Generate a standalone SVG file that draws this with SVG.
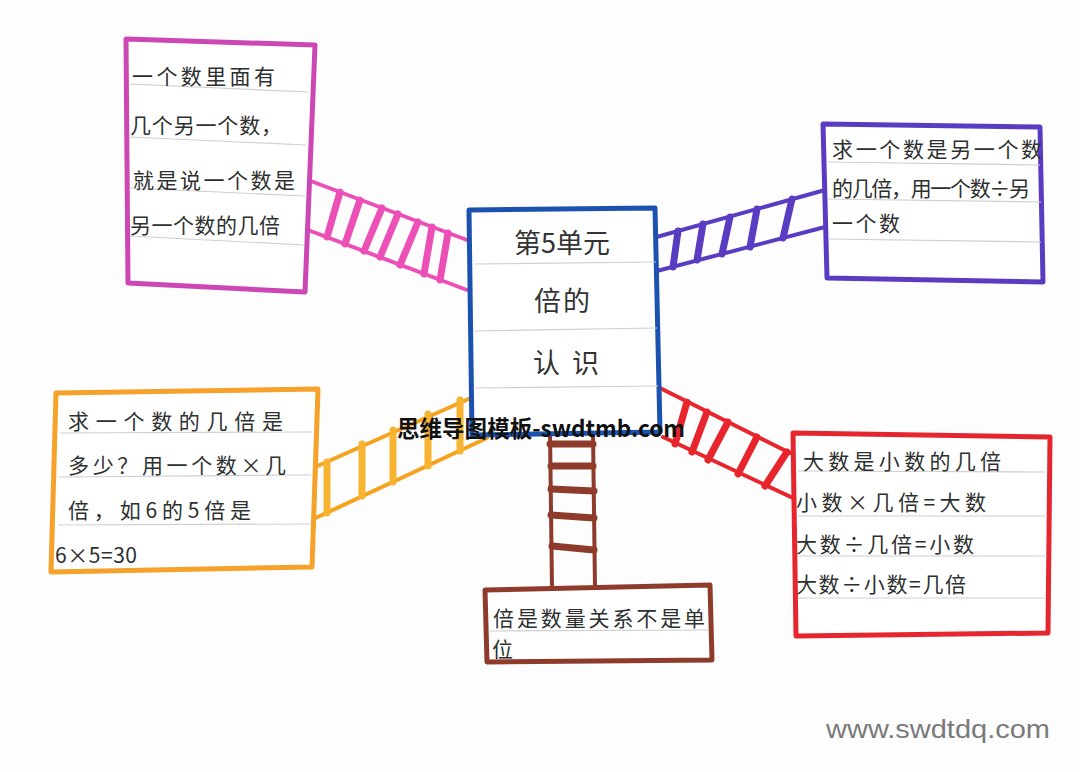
<svg xmlns="http://www.w3.org/2000/svg" width="1080" height="772" viewBox="0 0 1080 772">
<style>
.bg{fill:#fdfdfd}
.box{fill:#fff;stroke-width:5;stroke-linejoin:round}
.rule{stroke:#cfcfcf;stroke-width:1.2;fill:none}
.hw{font-family:"Noto Sans CJK SC","Noto Sans",sans-serif;font-size:21px;fill:#2e3030}
.ctr{font-family:"Noto Sans CJK SC","Noto Sans",sans-serif;font-size:27px;fill:#333;text-anchor:middle}
.rail{stroke-width:4;stroke-linecap:round;fill:none}
.rung{stroke-width:7;stroke-linecap:round;fill:none}
.wm{font-family:"Noto Sans CJK SC","Noto Sans",sans-serif;font-weight:bold;font-size:23px;fill:#111}
.site{font-family:"Liberation Sans",Arial,sans-serif;font-size:26px;fill:#7a7a7a}
</style>
<rect class="bg" x="0" y="0" width="1080" height="772"/>

<g id="connectors">
  <g id="ladder-pink" stroke="#ec4fb6">
    <path class="rail" d="M308 180 L467 240 M308 230 L467 290"/>
    <path class="rung" d="M340 192 L327 237 M360 200 L345 244 M382 208 L364 251 M398 214 L380 257 M418 222 L400 265 M432 227 L424 274 M448 233 L440 280"/>
  </g>
  <g id="ladder-purple" stroke="#5a3cc2">
    <path class="rail" d="M653 238 L825 190 M653 272 L825 227"/>
    <path class="rung" d="M678 231 L673 267 M703 224 L697 260 M730 217 L722 254 M757 209 L750 247 M792 199 L783 238"/>
  </g>
  <g id="ladder-orange" stroke="#f5a21f">
    <path class="rail" d="M313 468 L473 397 M307 522 L487 438"/>
    <path class="rung" stroke="#f8b330" stroke-width="9" d="M327 462 L327 513 M362 444 L362 496 M393 430 L393 482 M428 414 L428 466 M460 400 L460 451"/>
  </g>
  <g id="ladder-red" stroke="#e8252d">
    <path class="rail" d="M660 388 L790 453 M663 437 L793 498"/>
    <path class="rung" stroke-width="8" d="M687 402 L675 444 M707 412 L692 452 M728 422 L708 460 M757 437 L738 474 M787 452 L765 486"/>
  </g>
  <g id="ladder-brown" stroke="#8e3b2c">
    <path class="rail" d="M550 432 L552 588 M593 432 L595 588"/>
    <path class="rung" stroke-width="6" d="M550 444 L593 444 M551 466 L593 466 M551 489 L594 491 M551 515 L594 518 M552 546 L594 550"/>
  </g>
</g>

<g id="node-pink">
  <polygon class="box" stroke="#cc46b4" points="126,39 315,45 305,292 128,283"/>
  <path class="rule" d="M130 84 L308 92 M130 137 L306 145 M130 188 L305 196 M130 236 L305 245"/>
  <text class="hw" x="132" y="84" textLength="143" lengthAdjust="spacing">一个数里面有</text>
  <text class="hw" x="130" y="133" textLength="152" lengthAdjust="spacing">几个另一个数，</text>
  <text class="hw" x="133" y="188" textLength="162" lengthAdjust="spacing">就是说一个数是</text>
  <text class="hw" x="130" y="233" textLength="150" lengthAdjust="spacing">另一个数的几倍</text>
</g>

<g id="node-center">
  <polygon class="box" stroke="#1b52b0" points="469,210 655,208 660,432 472,435"/>
  <path class="rule" d="M474 264 L656 262 M474 331 L657 328 M475 388 L658 386"/>
  <text class="ctr" x="562" y="253">第5单元</text>
  <text class="ctr" x="563" y="311" letter-spacing="2">倍的</text>
  <text class="ctr" x="572" y="373" letter-spacing="12">认识</text>
</g>

<g id="node-purple">
  <polygon class="box" stroke="#5a3cc2" points="823,124 1040,127 1043,282 827,278"/>
  <path class="rule" d="M828 162 L1040 165 M828 199 L1041 202 M829 239 L1041 242"/>
  <text class="hw" x="832" y="157" textLength="210" lengthAdjust="spacing">求一个数是另一个数</text>
  <text class="hw" x="832" y="196" textLength="198" lengthAdjust="spacing">的几倍，用一个数÷另</text>
  <text class="hw" x="832" y="231" textLength="68" lengthAdjust="spacing">一个数</text>
</g>

<g id="node-orange">
  <polygon class="box" stroke="#f5a12a" points="56,393 318,389 312,567 51,572"/>
  <path class="rule" d="M60 433 L312 432 M59 477 L311 475 M58 525 L311 524"/>
  <text class="hw" x="68" y="429" textLength="215" lengthAdjust="spacing">求一个数的几倍是</text>
  <text class="hw" x="68" y="473" textLength="218" lengthAdjust="spacing">多少？用一个数×几</text>
  <text class="hw" x="68" y="518" textLength="183" lengthAdjust="spacing">倍，如6的5倍是</text>
  <text class="hw" x="55" y="563" font-size="18" textLength="82" lengthAdjust="spacing">6×5=30</text>
</g>

<g id="node-red">
  <polygon class="box" stroke="#e5262e" points="793,433 1050,437 1048,633 796,636"/>
  <path class="rule" d="M798 471 L1045 472 M798 516 L1045 516 M798 556 L1045 556 M798 598 L1045 598"/>
  <text class="hw" x="803" y="469" textLength="198" lengthAdjust="spacing">大数是小数的几倍</text>
  <text class="hw" x="796" y="510" textLength="190" lengthAdjust="spacing">小数×几倍=大数</text>
  <text class="hw" x="796" y="552" textLength="178" lengthAdjust="spacing">大数÷几倍=小数</text>
  <text class="hw" x="796" y="592" textLength="170" lengthAdjust="spacing">大数÷小数=几倍</text>
</g>

<g id="node-brown">
  <polygon class="box" stroke="#8e3b2c" points="485,590 710,585 712,660 487,662"/>
  <path class="rule" d="M490 631 L708 630"/>
  <text class="hw" x="493" y="626" textLength="212" lengthAdjust="spacing">倍是数量关系不是单</text>
  <text class="hw" x="492" y="657">位</text>
</g>

<text class="wm" x="397" y="437" textLength="288" lengthAdjust="spacingAndGlyphs">思维导图模板-swdtmb.com</text>
<text class="site" x="826" y="738" textLength="224" lengthAdjust="spacingAndGlyphs">www.swdtdq.com</text>
</svg>
